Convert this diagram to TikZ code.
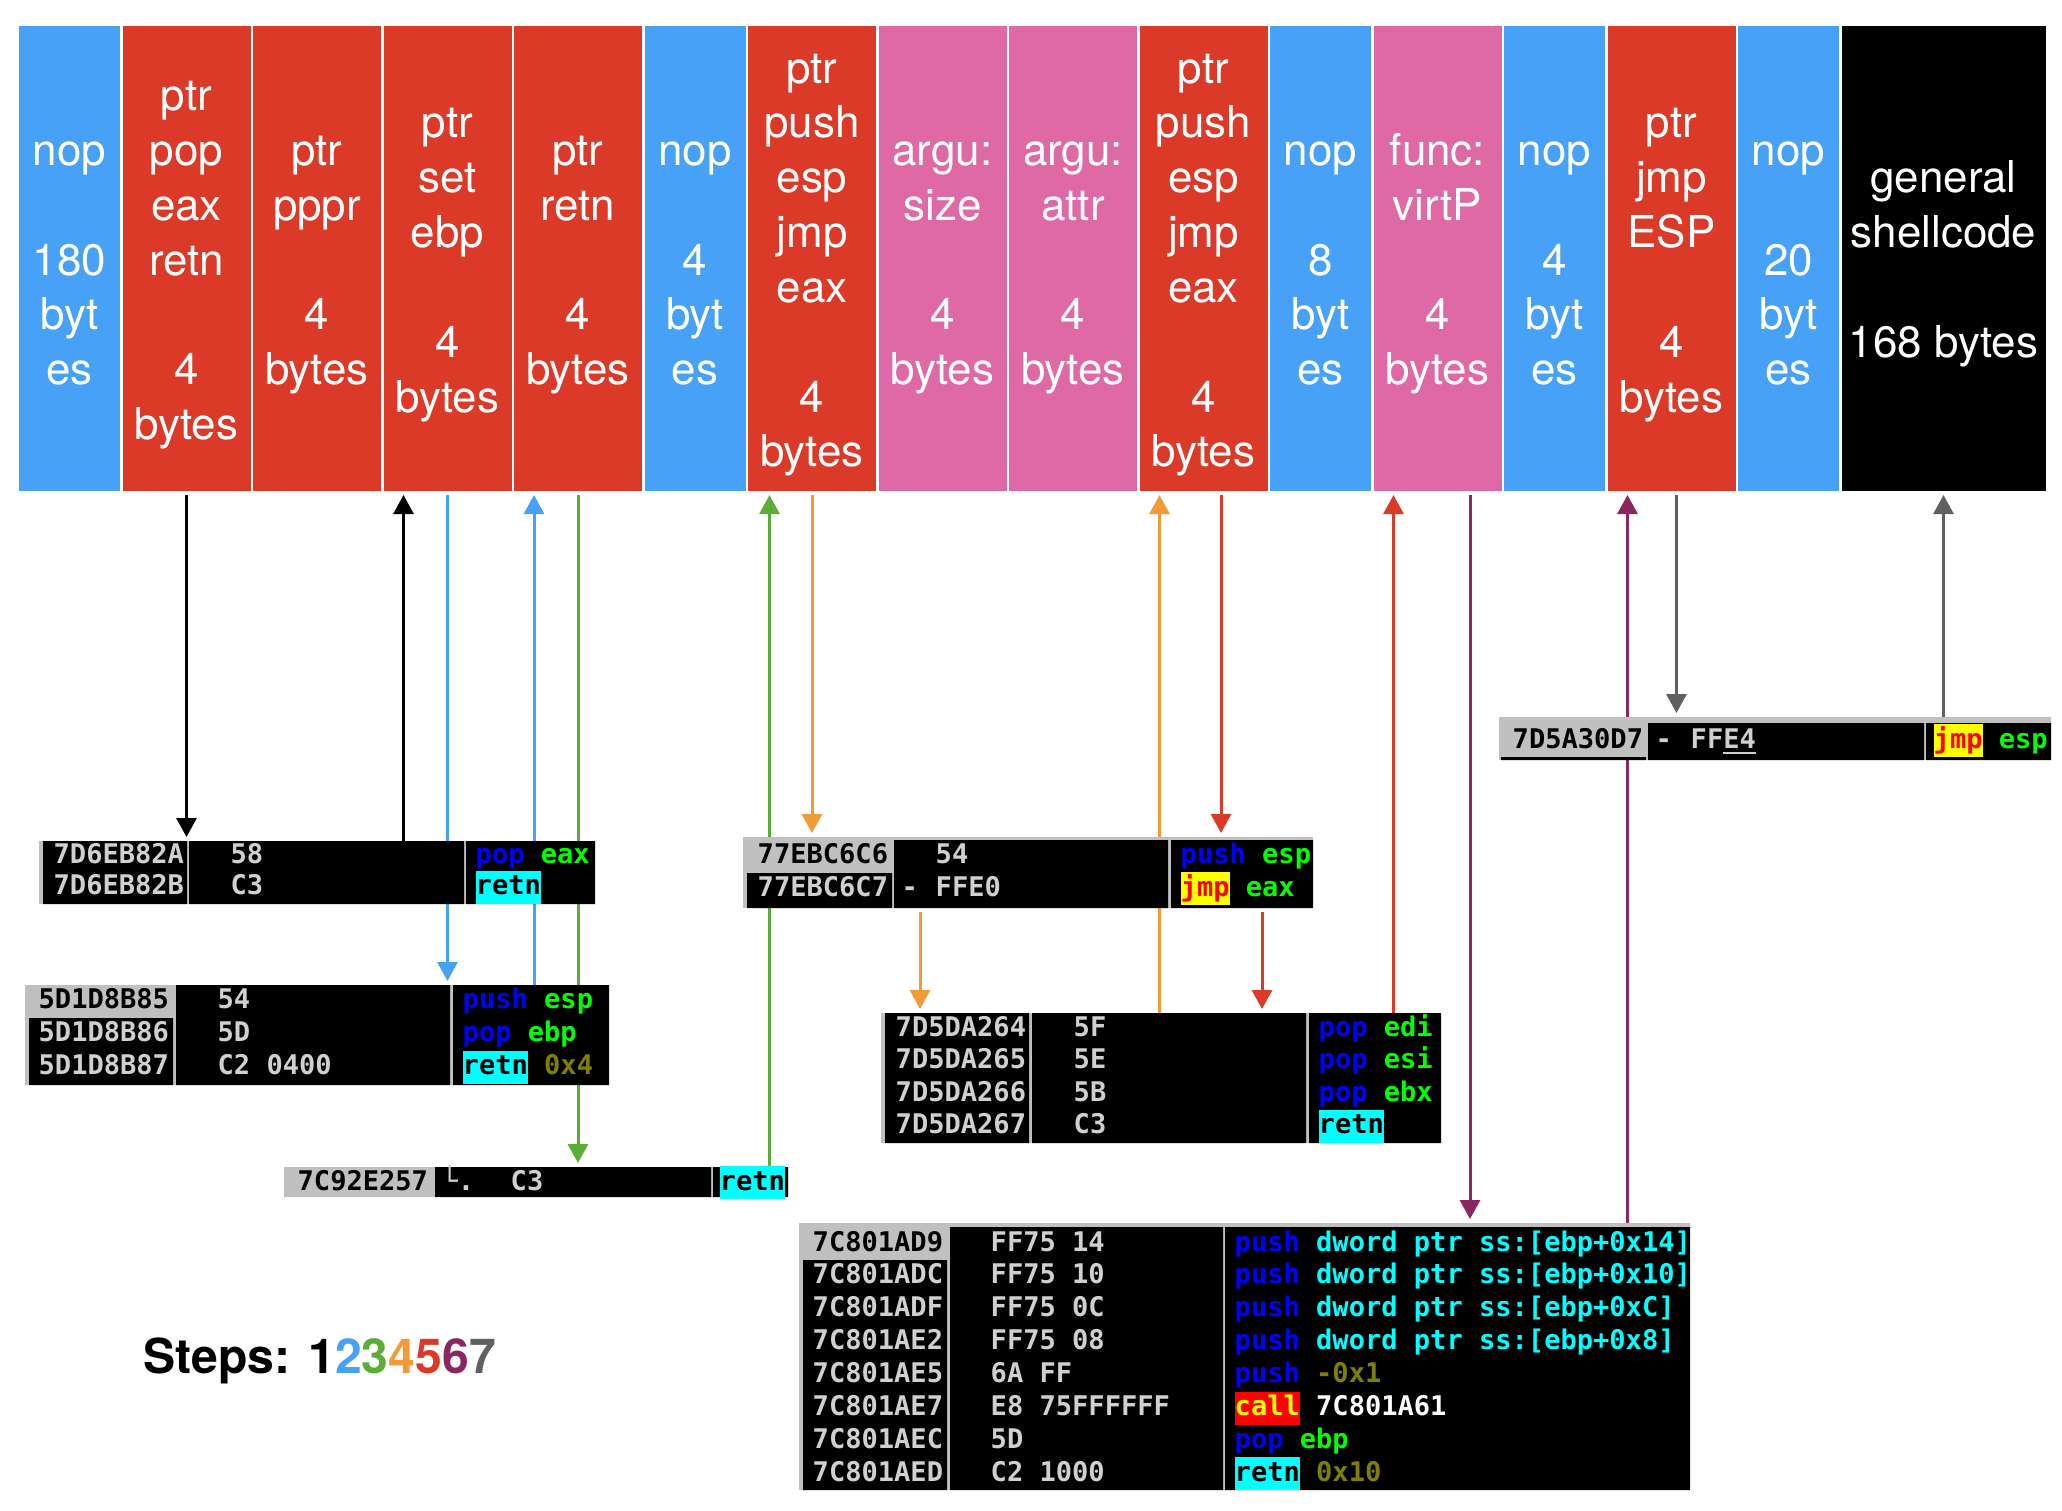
\documentclass[tikz,border=0pt]{standalone}
\usepackage{fontspec}
\usetikzlibrary{positioning,arrows.meta}
\newfontfamily\colfont{TeX Gyre Heros}
\newfontfamily\ollyfont{DejaVu Sans Mono}
\definecolor{nopblue}{HTML}{47A2F7}
\definecolor{ptrred}{HTML}{DB3A28}
\definecolor{argpink}{HTML}{DF69A4}
\definecolor{stepgreen}{HTML}{5AAD36}
\definecolor{steporange}{HTML}{F09B38}
\definecolor{steppurple}{HTML}{8A2660}
\definecolor{stepgray}{HTML}{606060}
\definecolor{ollygray}{HTML}{C0C0C0}
\definecolor{ollytext}{HTML}{D0D0D0}
\definecolor{ollyblue}{HTML}{0000FF}
\definecolor{ollygreen}{HTML}{00FF00}
\definecolor{ollycyan}{HTML}{00FFFF}
\definecolor{ollyolive}{HTML}{808000}
\definecolor{ollyyellow}{HTML}{FFFF00}
\definecolor{ollyred}{HTML}{FF0000}
\newcommand\ollyop[1]{\textcolor{ollyblue}{#1}}
\newcommand\ollyreg[1]{\textcolor{ollygreen}{#1}}
\newcommand\ollymem[1]{\textcolor{ollycyan}{#1}}
\newcommand\ollynum[1]{\textcolor{ollyolive}{#1}}
\newcommand\ollyhl[3]{{\fboxsep=0pt\colorbox{#1}{\rule[-0.9mm]{0pt}{3.3mm}\textcolor{#2}{#3}}}}
\newcommand\coltop{\rule{0pt}{12.5pt}}
\newcommand\blankline{\\[15.6pt]}
\pgfdeclarelayer{lines}
\pgfsetlayers{lines,main}

\begin{document}
\begin{tikzpicture}[x=0.1mm,y=-0.1mm,>={Triangle[width=2mm,length=1.9mm]},
    col/.style={inner sep=0,outer sep=0,minimum height=46.5mm,text=white,align=center,
      font=\colfont\fontsize{12.5}{15.6}\selectfont,
      execute at end node={\rule[-3.1pt]{0pt}{0pt}}},
    nopcol/.style={col,fill=nopblue,minimum width=10.1mm},
    ptrcol/.style={col,fill=ptrred,minimum width=12.8mm},
    argcol/.style={col,fill=argpink,minimum width=12.8mm},
    shellcol/.style={col,fill=black,minimum width=20.4mm},
    gadget/.style={inner sep=0,outer sep=0,fill=ollygray},
    olly/.style={anchor=base west,inner sep=0,text=ollytext,
      font=\ollyfont\bfseries\fontsize{7.7}{9}\selectfont},
    sel/.style={olly,text=black},
    link/.style={->,line width=0.3mm,shorten >=0.4mm},
    down/.style={link,shorten <=0.4mm}]
  \useasboundingbox (0,0) rectangle (2062,1510);
  % the payload
  \node[nopcol] (c1) at (69.5,258.5) {\coltop nop\blankline180\\byt\\es};
  \node[ptrcol,right=0.25mm of c1] (c2) {\coltop ptr\\pop\\eax\\retn\blankline4\\bytes};
  \node[ptrcol,right=0.25mm of c2] (c3) {\coltop ptr\\pppr\blankline4\\bytes};
  \node[ptrcol,right=0.25mm of c3] (c4) {\coltop ptr\\set\\ebp\blankline4\\bytes};
  \node[ptrcol,right=0.25mm of c4] (c5) {\coltop ptr\\retn\blankline4\\bytes};
  \node[nopcol,right=0.25mm of c5] (c6) {\coltop nop\blankline4\\byt\\es};
  \node[ptrcol,right=0.25mm of c6] (c7) {\coltop ptr\\push\\esp\\jmp\\eax\blankline4\\bytes};
  \node[argcol,right=0.25mm of c7] (c8) {\coltop argu:\\size\blankline4\\bytes};
  \node[argcol,right=0.25mm of c8] (c9) {\coltop argu:\\attr\blankline4\\bytes};
  \node[ptrcol,right=0.25mm of c9] (c10) {\coltop ptr\\push\\esp\\jmp\\eax\blankline4\\bytes};
  \node[nopcol,right=0.25mm of c10] (c11) {\coltop nop\blankline8\\byt\\es};
  \node[argcol,right=0.25mm of c11] (c12) {\coltop func:\\virtP\blankline4\\bytes};
  \node[nopcol,right=0.25mm of c12] (c13) {\coltop nop\blankline4\\byt\\es};
  \node[ptrcol,right=0.25mm of c13] (c14) {\coltop ptr\\jmp\\ESP\blankline4\\bytes};
  \node[nopcol,right=0.25mm of c14] (c15) {\coltop nop\blankline20\\byt\\es};
  \node[shellcol,right=0.25mm of c15] (c16) {\coltop general\\shellcode\blankline168 bytes};

  % pop eax / retn
  \node[gadget,minimum width=55.6mm,minimum height=6.3mm] (gA) at (317,872.5) {};
  \fill (43,841) rectangle (187,904) (189,841) rectangle (464,904) (466,841) rectangle (595,904);
  \foreach \i/\ad/\hx/\as in {0/7D6EB82A/58/{\ollyop{pop} \ollyreg{eax}},
      1/7D6EB82B/C3/{\ollyhl{ollycyan}{black}{retn}}}{
    \node[olly] (gA-a\i) at (53,863+31.5*\i) {\ad};
    \node[olly] (gA-h\i) at (230,863+31.5*\i) {\hx};
    \node[olly] (gA-s\i) at (475,863+31.5*\i) {\as};
  }

  % push esp / pop ebp / retn 4
  \node[gadget,minimum width=58.4mm,minimum height=10mm] (gB) at (317,1035) {};
  \fill (29,1018) rectangle (173,1085) (176,985) rectangle (450,1085) (453,985) rectangle (609,1085);
  \foreach \i/\st/\ad/\hx/\as in {0/sel/5D1D8B85/54/{\ollyop{push} \ollyreg{esp}},
      1/olly/5D1D8B86/5D/{\ollyop{pop} \ollyreg{ebp}},
      2/olly/5D1D8B87/C2 0400/{\ollyhl{ollycyan}{black}{retn} \ollynum{0x4}}}{
    \node[\st] (gB-a\i) at (38,1008+33.3*\i) {\ad};
    \node[olly] (gB-h\i) at (217,1008+33.3*\i) {\hx};
    \node[olly] (gB-s\i) at (462,1008+33.3*\i) {\as};
  }

  % retn
  \node[gadget,minimum width=50.4mm,minimum height=3mm] (gC) at (536,1182) {};
  \fill (435,1167) rectangle (711,1197) (713,1167) rectangle (788,1197);
  \node[sel] (gC-a0) at (297,1190) {7C92E257};
  \node[olly] (gC-m0) at (441,1190) {└.};
  \node[olly] (gC-h0) at (510,1190) {C3};
  \node[olly] (gC-s0) at (719,1190) {\ollyhl{ollycyan}{black}{retn}};

  % push esp / jmp eax
  \node[gadget,minimum width=57mm,minimum height=7.1mm] (gD) at (1028,872.5) {};
  \fill (747,873) rectangle (892,908) (894,840) rectangle (1168,908) (1171,840) rectangle (1313,908);
  \node[sel] (gD-a0) at (757,863) {77EBC6C6};
  \node[olly] (gD-a1) at (757,896) {77EBC6C7};
  \node[olly] (gD-h0) at (935,863) {54};
  \node[olly] (gD-m1) at (901,896) {-};
  \node[olly] (gD-h1) at (935,896) {FFE0};
  \node[olly] (gD-s0) at (1180,863) {\ollyop{push} \ollyreg{esp}};
  \node[olly] (gD-s1) at (1180,896) {\ollyhl{ollyyellow}{ollyred}{jmp} \ollyreg{eax}};

  % pop pop pop retn
  \node[gadget,minimum width=56mm,minimum height=13mm] (gE) at (1161,1078) {};
  \fill (885,1013) rectangle (1029,1143) (1032,1013) rectangle (1306,1143) (1309,1013) rectangle (1441,1143);
  \foreach \i/\ad/\hx/\as in {0/7D5DA264/5F/{\ollyop{pop} \ollyreg{edi}},
      1/7D5DA265/5E/{\ollyop{pop} \ollyreg{esi}},
      2/7D5DA266/5B/{\ollyop{pop} \ollyreg{ebx}},
      3/7D5DA267/C3/{\ollyhl{ollycyan}{black}{retn}}}{
    \node[olly] (gE-a\i) at (895,1036+32.5*\i) {\ad};
    \node[olly] (gE-h\i) at (1073,1036+32.5*\i) {\hx};
    \node[olly] (gE-s\i) at (1318,1036+32.5*\i) {\as};
  }

  % jmp esp
  \node[gadget,minimum width=55.2mm,minimum height=4.3mm] (gF) at (1775,738.5) {};
  \fill (1501,757) rectangle (1646,760) (1648,723) rectangle (1924,760) (1926,723) rectangle (2051,760);
  \node[sel] (gF-a0) at (1512,748) {7D5A30D7};
  \node[olly] (gF-m0) at (1655,748) {-};
  \node[olly] (gF-h0) at (1690,748) {FF\underline{E4}};
  \node[olly] (gF-s0) at (1933,748) {\ollyhl{ollyyellow}{ollyred}{jmp} \ollyreg{esp}};

  % VirtualProtect
  \node[gadget,minimum width=89.1mm,minimum height=26.7mm] (gG) at (1244.5,1356.5) {};
  \fill (803,1260) rectangle (947,1490) (950,1227) rectangle (1223,1490) (1225,1227) rectangle (1690,1490);
  \foreach \i/\st/\ad/\hx/\as in {0/sel/7C801AD9/FF75 14/{\ollyop{push} \ollymem{dword ptr ss:[ebp+0x14]}},
      1/olly/7C801ADC/FF75 10/{\ollyop{push} \ollymem{dword ptr ss:[ebp+0x10]}},
      2/olly/7C801ADF/FF75 0C/{\ollyop{push} \ollymem{dword ptr ss:[ebp+0xC]}},
      3/olly/7C801AE2/FF75 08/{\ollyop{push} \ollymem{dword ptr ss:[ebp+0x8]}},
      4/olly/7C801AE5/6A FF/{\ollyop{push} \ollynum{-0x1}},
      5/olly/7C801AE7/E8 75FFFFFF/{\ollyhl{ollyred}{ollyyellow}{call} \textcolor{white}{7C801A61}},
      6/olly/7C801AEC/5D/{\ollyop{pop} \ollyreg{ebp}},
      7/olly/7C801AED/C2 1000/{\ollyhl{ollycyan}{black}{retn} \ollynum{0x10}}}{
    \node[\st] (gG-a\i) at (812,1251+32.9*\i) {\ad};
    \node[olly] (gG-h\i) at (990,1251+32.9*\i) {\hx};
    \node[olly] (gG-s\i) at (1234,1251+32.9*\i) {\as};
  }

  \node[anchor=base west,inner sep=0,font=\colfont\bfseries\fontsize{13.7}{16}\selectfont] (steps)
    at (143,1373) {Steps: 1\textcolor{nopblue}{2}\textcolor{stepgreen}{3}\textcolor{steporange}{4}%
    \textcolor{ptrred}{5}\textcolor{steppurple}{6}\textcolor{stepgray}{7}};

  % the steps, behind the gadgets
  \begin{pgfonlayer}{lines}
    \coordinate (u1) at ([xshift=2mm]c4.south west);
    \coordinate (u2) at ([xshift=2mm]c5.south west);
    \coordinate (u3) at ([xshift=2.15mm]c7.south west);
    \coordinate (u4) at ([xshift=2mm]c10.south west);
    \coordinate (u5) at ([xshift=2mm]c12.south west);
    \coordinate (u6) at ([xshift=2mm]c14.south west);
    \coordinate (m4) at ([xshift=3.9mm]gE.north west);
    \coordinate (m5) at ([xshift=38.1mm]gE.north west);
    \coordinate (d5) at ([xshift=1.75mm]c10.south);
    \coordinate (d6) at ([xshift=3.25mm]c12.south);
    \coordinate (d7) at ([xshift=0.5mm]c14.south);
    % 1
    \draw[down,black] (c2.south) -- (c2.south |- gA.north);
    \draw[link,black] (u1 |- gA.north) -- (u1);
    % 2
    \draw[down,nopblue] (c4.south) -- (c4.south |- gB.north);
    \draw[link,nopblue] (u2 |- gB.north) -- (u2);
    % 3
    \draw[down,stepgreen] (c5.south) -- (c5.south |- gC.north);
    \draw[link,stepgreen] (u3 |- gC.north) -- (u3);
    % 4
    \draw[down,steporange] (c7.south) -- (c7.south |- gD.north);
    \draw[down,steporange] (m4 |- gD.south) -- (m4);
    \draw[link,steporange] (u4 |- gE.north) -- (u4);
    % 5
    \draw[down,ptrred] (d5) -- (d5 |- gD.north);
    \draw[down,ptrred] (m5 |- gD.south) -- (m5);
    \draw[link,ptrred] (u5 |- gE.north) -- (u5);
    % 6
    \draw[down,steppurple] (d6) -- (d6 |- gG.north);
    \draw[link,steppurple] (u6 |- gG.north) -- (u6);
    % 7
    \draw[down,stepgray] (d7) -- (d7 |- gF.north);
    \draw[link,stepgray] (c16.south |- gF.north) -- (c16.south);
  \end{pgfonlayer}
\end{tikzpicture}
\end{document}
